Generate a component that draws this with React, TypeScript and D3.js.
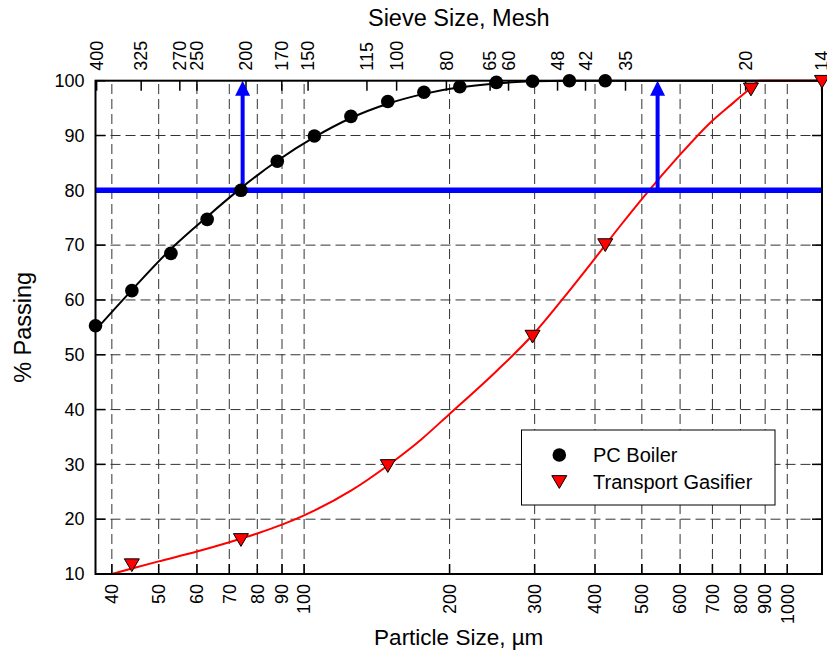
import * as d3 from "d3";

// measured data, particle size in µm
const pcSizes = [37, 44, 53, 63, 74, 88, 105, 125, 149, 177, 210, 250, 297, 354, 420];
const pcPassing = [55.3, 61.7, 68.5, 74.7, 80, 85.3, 89.9, 93.5, 96.2, 97.9, 98.9, 99.7, 99.9, 100, 100];

const tgSizes = [44, 74, 149, 297, 420, 841, 1180];
const tgPassing = [11.6, 16.2, 29.7, 53.3, 70, 98.4, 99.8];

// fitted curves
const pcFitSizes = [37, 44, 53, 63, 74, 88, 105, 125, 149, 177, 210, 250, 297, 354, 420, 600, 1180];
const pcFitPassing = [54.5, 61.8, 69.3, 75.2, 80.4, 85.4, 89.7, 93.2, 95.8, 97.6, 98.8, 99.5, 99.9, 100, 100, 100, 100];

const tgFitSizes = [40, 44, 50, 60, 70, 80, 90, 100, 125, 149, 175, 200, 250, 297, 343, 400, 450, 512, 593, 692, 774, 831, 879, 1180];
const tgFitPassing = [10, 11.0, 12.3, 14.1, 15.8, 17.4, 19.0, 20.7, 25.2, 29.8, 34.6, 39.2, 47.0, 53.6, 60.2, 67.6, 73.4, 79.5, 86.0, 92.3, 96.0, 98.3, 100, 100];

// d80 markers
const d80Sizes = [74.6, 539];
const d80Level = 80;

// axes
const sizeTicks = [40, 50, 60, 70, 80, 90, 100, 200, 300, 400, 500, 600, 700, 800, 900, 1000];
const passTicks = [10, 20, 30, 40, 50, 60, 70, 80, 90, 100];
const meshLabels = ["400", "325", "270", "250", "200", "170", "150", "115", "100", "80", "65", "60", "48", "42", "35", "20", "14"];
const meshSizes = [37.2, 46, 55.3, 60, 75.8, 89.9, 101.9, 134.9, 155.4, 197, 242.6, 264.9, 334.6, 382.3, 462.6, 820, 1178];

const W = 827;
const H = 653;
const FONT = "'Liberation Sans', Arial, Helvetica, sans-serif";

export default function App() {
  const x = d3.scaleLog().domain([37, 1180]).range([95.5, 822]);
  const y = d3.scaleLinear().domain([10, 100]).range([574, 80.7]);
  const [x0, x1] = x.range();
  const [y0, y1] = y.range();

  const line = d3
    .line<[number, number]>()
    .x((d) => x(d[0]))
    .y((d) => y(d[1]))
    .curve(d3.curveMonotoneX);

  const pcPath = line(pcFitSizes.map((s, i) => [s, pcFitPassing[i]]));
  const tgPath = line(tgFitSizes.map((s, i) => [s, tgFitPassing[i]]));

  const tri = (cx: number, cy: number, s: number) =>
    `M${cx - s},${cy - s * 0.85}L${cx + s},${cy - s * 0.85}L${cx},${cy + s * 0.85}Z`;

  const tickLen = 10;

  return (
    <svg
      width={W}
      height={H}
      style={{ position: "absolute", left: 0, top: 0, background: "#fff" }}
      fontFamily={FONT}
    >
      {/* grid */}
      <g stroke="#333" strokeWidth={1} strokeDasharray="10,5">
        {sizeTicks.map((t) => (
          <line key={"gx" + t} x1={x(t)} x2={x(t)} y1={y0} y2={y1} />
        ))}
        {passTicks
          .filter((t) => t > 10 && t < 100)
          .map((t) => (
            <line key={"gy" + t} x1={x0} x2={x1} y1={y(t)} y2={y(t)} />
          ))}
      </g>

      {/* ticks */}
      <g stroke="#000" strokeWidth={1.5}>
        {sizeTicks.map((t) => (
          <line key={"bt" + t} x1={x(t)} x2={x(t)} y1={y0} y2={y0 - tickLen} />
        ))}
        {meshSizes.map((t, i) => (
          <line key={"tt" + i} x1={x(t)} x2={x(t)} y1={y1} y2={y1 + tickLen} />
        ))}
        {passTicks.map((t) => (
          <g key={"yt" + t}>
            <line x1={x0} x2={x0 + tickLen} y1={y(t)} y2={y(t)} />
            <line x1={x1} x2={x1 - tickLen} y1={y(t)} y2={y(t)} />
          </g>
        ))}
      </g>

      {/* fitted curves */}
      <path d={pcPath || ""} fill="none" stroke="#000" strokeWidth={2} />
      <path d={tgPath || ""} fill="none" stroke="#ff0000" strokeWidth={2} />

      {/* d80 lines */}
      <g fill="#0000ff" stroke="#0000ff">
        <line x1={x0} x2={x1} y1={y(d80Level)} y2={y(d80Level)} strokeWidth={5.5} />
        {d80Sizes.map((s) => (
          <g key={"ar" + s}>
            <line x1={x(s)} x2={x(s)} y1={y(d80Level)} y2={y(100) + 12} strokeWidth={4} />
            <path
              d={`M${x(s)},${y(100)}L${x(s) - 7.5},${y(100) + 15}L${x(s) + 7.5},${y(100) + 15}Z`}
              stroke="none"
            />
          </g>
        ))}
      </g>

      {/* frame */}
      <rect x={x0} y={y1} width={x1 - x0} height={y0 - y1} fill="none" stroke="#000" strokeWidth={2} />

      {/* markers */}
      {pcSizes.map((s, i) => (
        <circle key={"pc" + i} cx={x(s)} cy={y(pcPassing[i])} r={6.8} fill="#000" />
      ))}
      {tgSizes.map((s, i) => (
        <path
          key={"tg" + i}
          d={tri(x(s), y(tgPassing[i]), 7.5)}
          fill="#ff0000"
          stroke="#000"
          strokeWidth={1}
        />
      ))}

      {/* tick labels */}
      <g fontSize={18} fill="#000">
        {sizeTicks.map((t) => (
          <text
            key={"bl" + t}
            transform={`translate(${x(t)},${y0 + 10}) rotate(-90)`}
            textAnchor="end"
            dy="0.35em"
          >
            {t}
          </text>
        ))}
        {meshSizes.map((t, i) => (
          <text
            key={"tl" + i}
            transform={`translate(${x(t)},${y1 - 10}) rotate(-90)`}
            textAnchor="start"
            dy="0.35em"
          >
            {meshLabels[i]}
          </text>
        ))}
        {passTicks.map((t) => (
          <text key={"yl" + t} x={x0 - 11} y={y(t)} dy="0.35em" textAnchor="end">
            {t}
          </text>
        ))}
      </g>

      {/* axis titles */}
      <g fill="#000" textAnchor="middle">
        <text x={(x0 + x1) / 2} y={26} fontSize={23.5}>
          Sieve Size, Mesh
        </text>
        <text x={(x0 + x1) / 2} y={645} fontSize={22.5}>
          Particle Size, µm
        </text>
        <text transform={`translate(31,${(y0 + y1) / 2}) rotate(-90)`} fontSize={23.5}>
          % Passing
        </text>
      </g>

      {/* legend */}
      <g>
        <rect x={521.5} y={430} width={253.5} height={75} fill="#fff" stroke="#000" strokeWidth={1} />
        <circle cx={559.3} cy={455} r={6.8} fill="#000" />
        <path d={tri(559.3, 482, 7.5)} fill="#ff0000" stroke="#000" strokeWidth={1} />
        <text x={593} y={455} dy="0.35em" fontSize={20}>
          PC Boiler
        </text>
        <text x={593} y={482} dy="0.35em" fontSize={20}>
          Transport Gasifier
        </text>
      </g>
    </svg>
  );
}
